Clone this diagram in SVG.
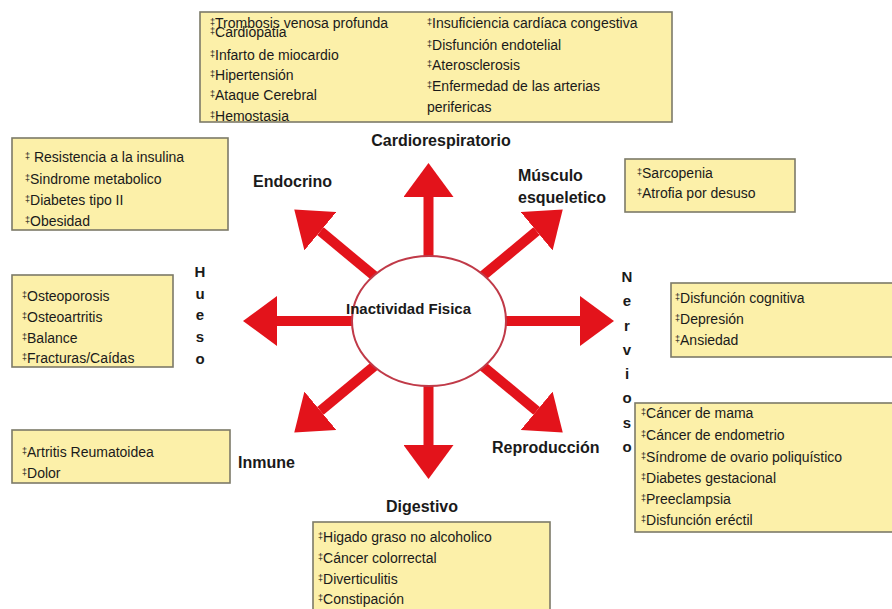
<svg xmlns="http://www.w3.org/2000/svg" width="892" height="609" viewBox="0 0 892 609">
<style>
.box{fill:#fcf0a9;stroke:#7c7a68;stroke-width:1.6}
.t{font-family:"Liberation Sans",Arial,sans-serif;font-size:14px;fill:#1a1a1a}
.d{font-size:9px}
.lb{font-family:"Liberation Sans",Arial,sans-serif;font-size:16px;font-weight:bold;fill:#1a1a1a}
.v{font-family:"Liberation Sans",Arial,sans-serif;font-size:15px;font-weight:bold;fill:#1a1a1a;text-anchor:middle}
.arr{stroke:#e3131b;stroke-width:10;fill:none;marker-end:url(#head)}
</style>
<defs>
<marker id="head" markerUnits="userSpaceOnUse" markerWidth="34" markerHeight="50" refX="0" refY="25" orient="auto" viewBox="0 0 34 50">
<path d="M0,0 L34,25 L0,50 Z" fill="#e3131b"/>
</marker>
</defs>
<rect width="892" height="609" fill="#ffffff"/>

<g id="connectors">
<line class="arr" x1="428.5" y1="300" x2="428.5" y2="197"/>
<line class="arr" x1="428.5" y1="340" x2="428.5" y2="445"/>
<line class="arr" x1="480" y1="321" x2="580" y2="321"/>
<line class="arr" x1="380" y1="321" x2="277" y2="321"/>
<line class="arr" x1="382.4" y1="282.7" x2="320.4" y2="231.2"/>
<line class="arr" x1="474.6" y1="282.7" x2="536.6" y2="231.2"/>
<line class="arr" x1="382.4" y1="359.3" x2="320.4" y2="410.8"/>
<line class="arr" x1="474.6" y1="359.3" x2="536.6" y2="410.8"/>
</g>

<g id="center">
<ellipse cx="429" cy="321" rx="77" ry="65" fill="#ffffff" stroke="#c03a48" stroke-width="2"/>
<text class="lb" x="346" y="314" style="font-size:15px">Inactividad Fisica</text>
</g>

<g id="cardiorespiratorio">
<rect class="box" x="200" y="12" width="472" height="110"/>
<text class="t" x="210" y="28"><tspan class="d" dy="-3">‡</tspan><tspan dy="3">Trombosis venosa profunda</tspan></text>
<text class="t" x="210" y="37"><tspan class="d" dy="-3">‡</tspan><tspan dy="3">Cardiopatia</tspan></text>
<text class="t" x="210" y="60"><tspan class="d" dy="-3">‡</tspan><tspan dy="3">Infarto de miocardio</tspan></text>
<text class="t" x="210" y="80"><tspan class="d" dy="-3">‡</tspan><tspan dy="3">Hipertensión</tspan></text>
<text class="t" x="210" y="100"><tspan class="d" dy="-3">‡</tspan><tspan dy="3">Ataque Cerebral</tspan></text>
<text class="t" x="210" y="121"><tspan class="d" dy="-3">‡</tspan><tspan dy="3">Hemostasia</tspan></text>
<text class="t" x="427" y="28"><tspan class="d" dy="-3">‡</tspan><tspan dy="3">Insuficiencia cardíaca congestiva</tspan></text>
<text class="t" x="427" y="50"><tspan class="d" dy="-3">‡</tspan><tspan dy="3">Disfunción endotelial</tspan></text>
<text class="t" x="427" y="70"><tspan class="d" dy="-3">‡</tspan><tspan dy="3">Aterosclerosis</tspan></text>
<text class="t" x="427" y="91"><tspan class="d" dy="-3">‡</tspan><tspan dy="3">Enfermedad de las arterias</tspan></text>
<text class="t" x="427" y="112">perifericas</text>
<text class="lb" x="441" y="146" text-anchor="middle">Cardiorespiratorio</text>
</g>

<g id="endocrino">
<rect class="box" x="12" y="138" width="216" height="92"/>
<text class="t" x="25" y="162"><tspan class="d" dy="-3">‡</tspan><tspan dy="3"> Resistencia a la insulina</tspan></text>
<text class="t" x="25" y="184"><tspan class="d" dy="-3">‡</tspan><tspan dy="3">Sindrome metabolico</tspan></text>
<text class="t" x="25" y="205"><tspan class="d" dy="-3">‡</tspan><tspan dy="3">Diabetes tipo II</tspan></text>
<text class="t" x="25" y="226"><tspan class="d" dy="-3">‡</tspan><tspan dy="3">Obesidad</tspan></text>
<text class="lb" x="253" y="187">Endocrino</text>
</g>

<g id="musculo">
<rect class="box" x="625" y="159" width="170" height="53"/>
<text class="t" x="637" y="178"><tspan class="d" dy="-3">‡</tspan><tspan dy="3">Sarcopenia</tspan></text>
<text class="t" x="637" y="198"><tspan class="d" dy="-3">‡</tspan><tspan dy="3">Atrofia por desuso</tspan></text>
<text class="lb" x="518" y="181">Músculo</text>
<text class="lb" x="518" y="203">esqueletico</text>
</g>

<g id="hueso">
<rect class="box" x="12" y="275" width="161" height="92"/>
<text class="t" x="22" y="301"><tspan class="d" dy="-3">‡</tspan><tspan dy="3">Osteoporosis</tspan></text>
<text class="t" x="22" y="322"><tspan class="d" dy="-3">‡</tspan><tspan dy="3">Osteoartritis</tspan></text>
<text class="t" x="22" y="343"><tspan class="d" dy="-3">‡</tspan><tspan dy="3">Balance</tspan></text>
<text class="t" x="22" y="363"><tspan class="d" dy="-3">‡</tspan><tspan dy="3">Fracturas/Caídas</tspan></text>
<text class="v" x="200" y="277">H</text>
<text class="v" x="200" y="299">u</text>
<text class="v" x="200" y="320">e</text>
<text class="v" x="200" y="342">s</text>
<text class="v" x="200" y="364">o</text>
</g>

<g id="nervioso">
<rect class="box" x="671" y="283" width="240" height="74"/>
<text class="t" x="675" y="303"><tspan class="d" dy="-3">‡</tspan><tspan dy="3">Disfunción cognitiva</tspan></text>
<text class="t" x="675" y="324"><tspan class="d" dy="-3">‡</tspan><tspan dy="3">Depresión</tspan></text>
<text class="t" x="675" y="345"><tspan class="d" dy="-3">‡</tspan><tspan dy="3">Ansiedad</tspan></text>
<text class="v" x="627" y="282">N</text>
<text class="v" x="627" y="306">e</text>
<text class="v" x="627" y="331">r</text>
<text class="v" x="627" y="355">v</text>
<text class="v" x="627" y="379">i</text>
<text class="v" x="627" y="403">o</text>
<text class="v" x="627" y="428">s</text>
<text class="v" x="627" y="452">o</text>
</g>

<g id="inmune">
<rect class="box" x="12" y="430" width="218" height="53"/>
<text class="t" x="22" y="457"><tspan class="d" dy="-3">‡</tspan><tspan dy="3">Artritis Reumatoidea</tspan></text>
<text class="t" x="22" y="478"><tspan class="d" dy="-3">‡</tspan><tspan dy="3">Dolor</tspan></text>
<text class="lb" x="238" y="468">Inmune</text>
</g>

<g id="reproduccion">
<rect class="box" x="635" y="403" width="270" height="129"/>
<text class="t" x="641" y="418"><tspan class="d" dy="-3">‡</tspan><tspan dy="3">Cáncer de mama</tspan></text>
<text class="t" x="641" y="440"><tspan class="d" dy="-3">‡</tspan><tspan dy="3">Cáncer de endometrio</tspan></text>
<text class="t" x="641" y="462"><tspan class="d" dy="-3">‡</tspan><tspan dy="3">Síndrome de ovario poliquístico</tspan></text>
<text class="t" x="641" y="483"><tspan class="d" dy="-3">‡</tspan><tspan dy="3">Diabetes gestacional</tspan></text>
<text class="t" x="641" y="504"><tspan class="d" dy="-3">‡</tspan><tspan dy="3">Preeclampsia</tspan></text>
<text class="t" x="641" y="525"><tspan class="d" dy="-3">‡</tspan><tspan dy="3">Disfunción eréctil</tspan></text>
<text class="lb" x="492" y="453">Reproducción</text>
</g>

<g id="digestivo">
<rect class="box" x="313" y="522" width="237" height="100"/>
<text class="t" x="318" y="542"><tspan class="d" dy="-3">‡</tspan><tspan dy="3">Higado graso no alcoholico</tspan></text>
<text class="t" x="318" y="563"><tspan class="d" dy="-3">‡</tspan><tspan dy="3">Cáncer colorrectal</tspan></text>
<text class="t" x="318" y="584"><tspan class="d" dy="-3">‡</tspan><tspan dy="3">Diverticulitis</tspan></text>
<text class="t" x="318" y="604"><tspan class="d" dy="-3">‡</tspan><tspan dy="3">Constipación</tspan></text>
<text class="lb" x="422" y="512" text-anchor="middle">Digestivo</text>
</g>
</svg>
